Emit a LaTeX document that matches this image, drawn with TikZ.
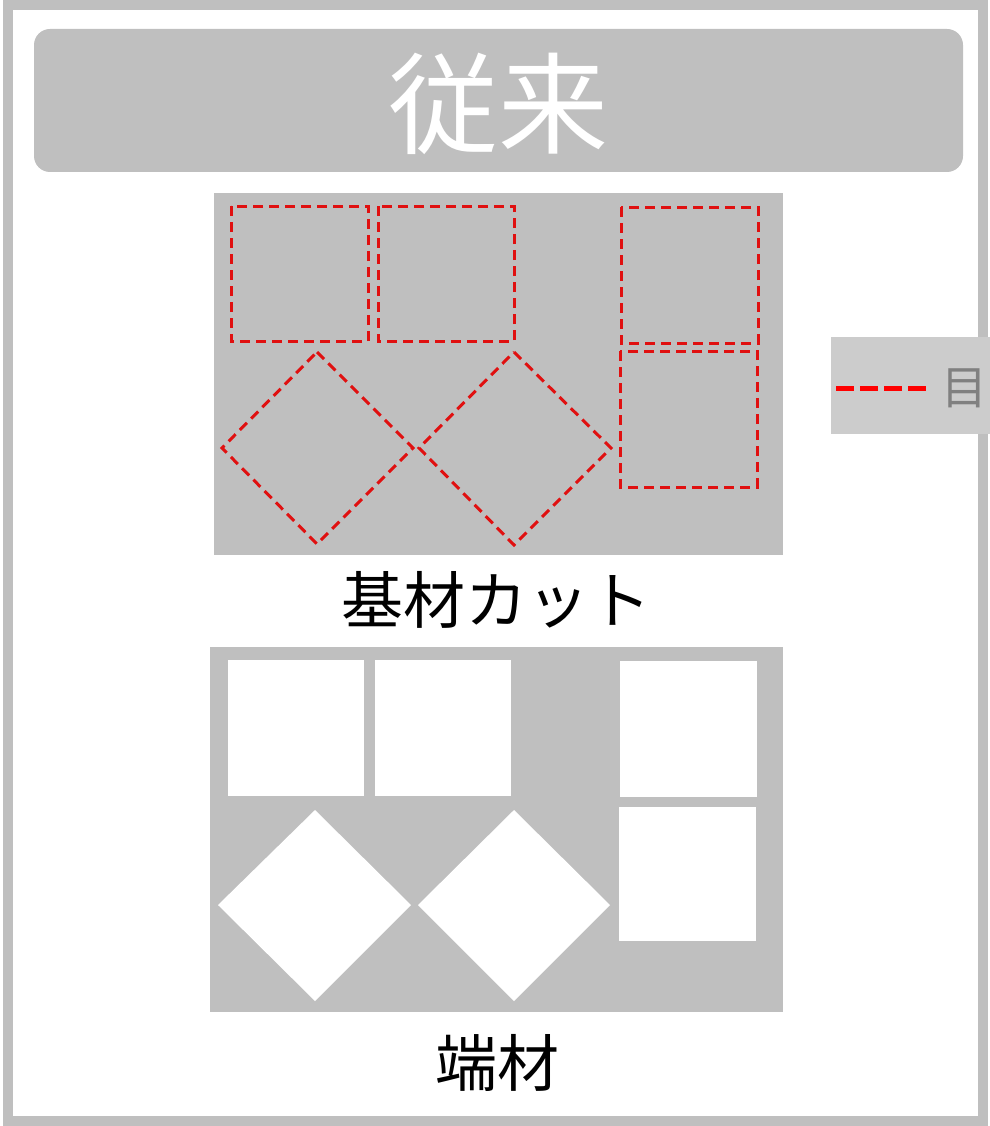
\documentclass[tikz,border=0pt]{standalone}
\usepackage{fontspec}
\newfontfamily\jp{Noto Sans CJK JP}
\definecolor{panelgray}{HTML}{BFBFBF}
\definecolor{leggray}{HTML}{CCCCCC}
\definecolor{cutred}{HTML}{E01010}
\definecolor{legtext}{HTML}{808080}
\tikzset{
  cutline/.style={draw=cutred, line width=3pt, dash pattern=on 10pt off 6pt},
  piece/.style={fill=white},
  panel/.style={fill=panelgray},
  caption/.style={font=\jp\fontsize{62}{62}\selectfont, text=black, inner sep=0pt}
}
\begin{document}
\begin{tikzpicture}[x=1pt,y=-1pt]
\useasboundingbox (0,0) rectangle (989,1126);
% outer frame
\draw[panelgray, line width=10pt] (7.5,5.5) rectangle (982.5,1121);
% title bar
\fill[panelgray, rounded corners=16pt] (34,29) rectangle (963,172);
\node[text=white, font=\jp\fontsize{110}{110}\selectfont, inner sep=0pt] (title) at (498,104) {従来};
% top panel
\path[panel] (214,193) rectangle (783,555);
\draw[cutline] (231,206) rectangle (368,341);
\draw[cutline] (378,206) rectangle (514,341);
\draw[cutline] (621,207) rectangle (758,343);
\draw[cutline] (620,351) rectangle (757,487);
\draw[cutline] (317,352) -- (413,448) -- (317,544) -- (222,448) -- cycle;
\draw[cutline] (514,352) -- (611,448) -- (514,545) -- (419,448) -- cycle;
\node[caption] (cutlabel) at (496,600) {基材カット};
% bottom panel
\path[panel] (210,647) rectangle (783,1012);
\path[piece] (228,660) rectangle (364,796);
\path[piece] (375,660) rectangle (511,796);
\path[piece] (620,661) rectangle (757,797);
\path[piece] (619,807) rectangle (756,941);
\path[piece] (315,810) -- (411,905) -- (315,1001) -- (218,905) -- cycle;
\path[piece] (514,810) -- (610,905) -- (514,1001) -- (418,905) -- cycle;
\node[caption] (scraplabel) at (497,1063) {端材};
% legend
\fill[leggray] (831,337) rectangle (1000,434);
\coordinate (legA) at (836,388);
\coordinate (legB) at (927,388);
\draw[red, line width=5pt, dash pattern=on 18pt off 6pt] (legA) -- (legB);
\node[text=legtext, font=\jp\fontsize{46}{46}\selectfont, inner sep=0pt, anchor=east] (legtext) at (988,388) {目};
\end{tikzpicture}
\end{document}
